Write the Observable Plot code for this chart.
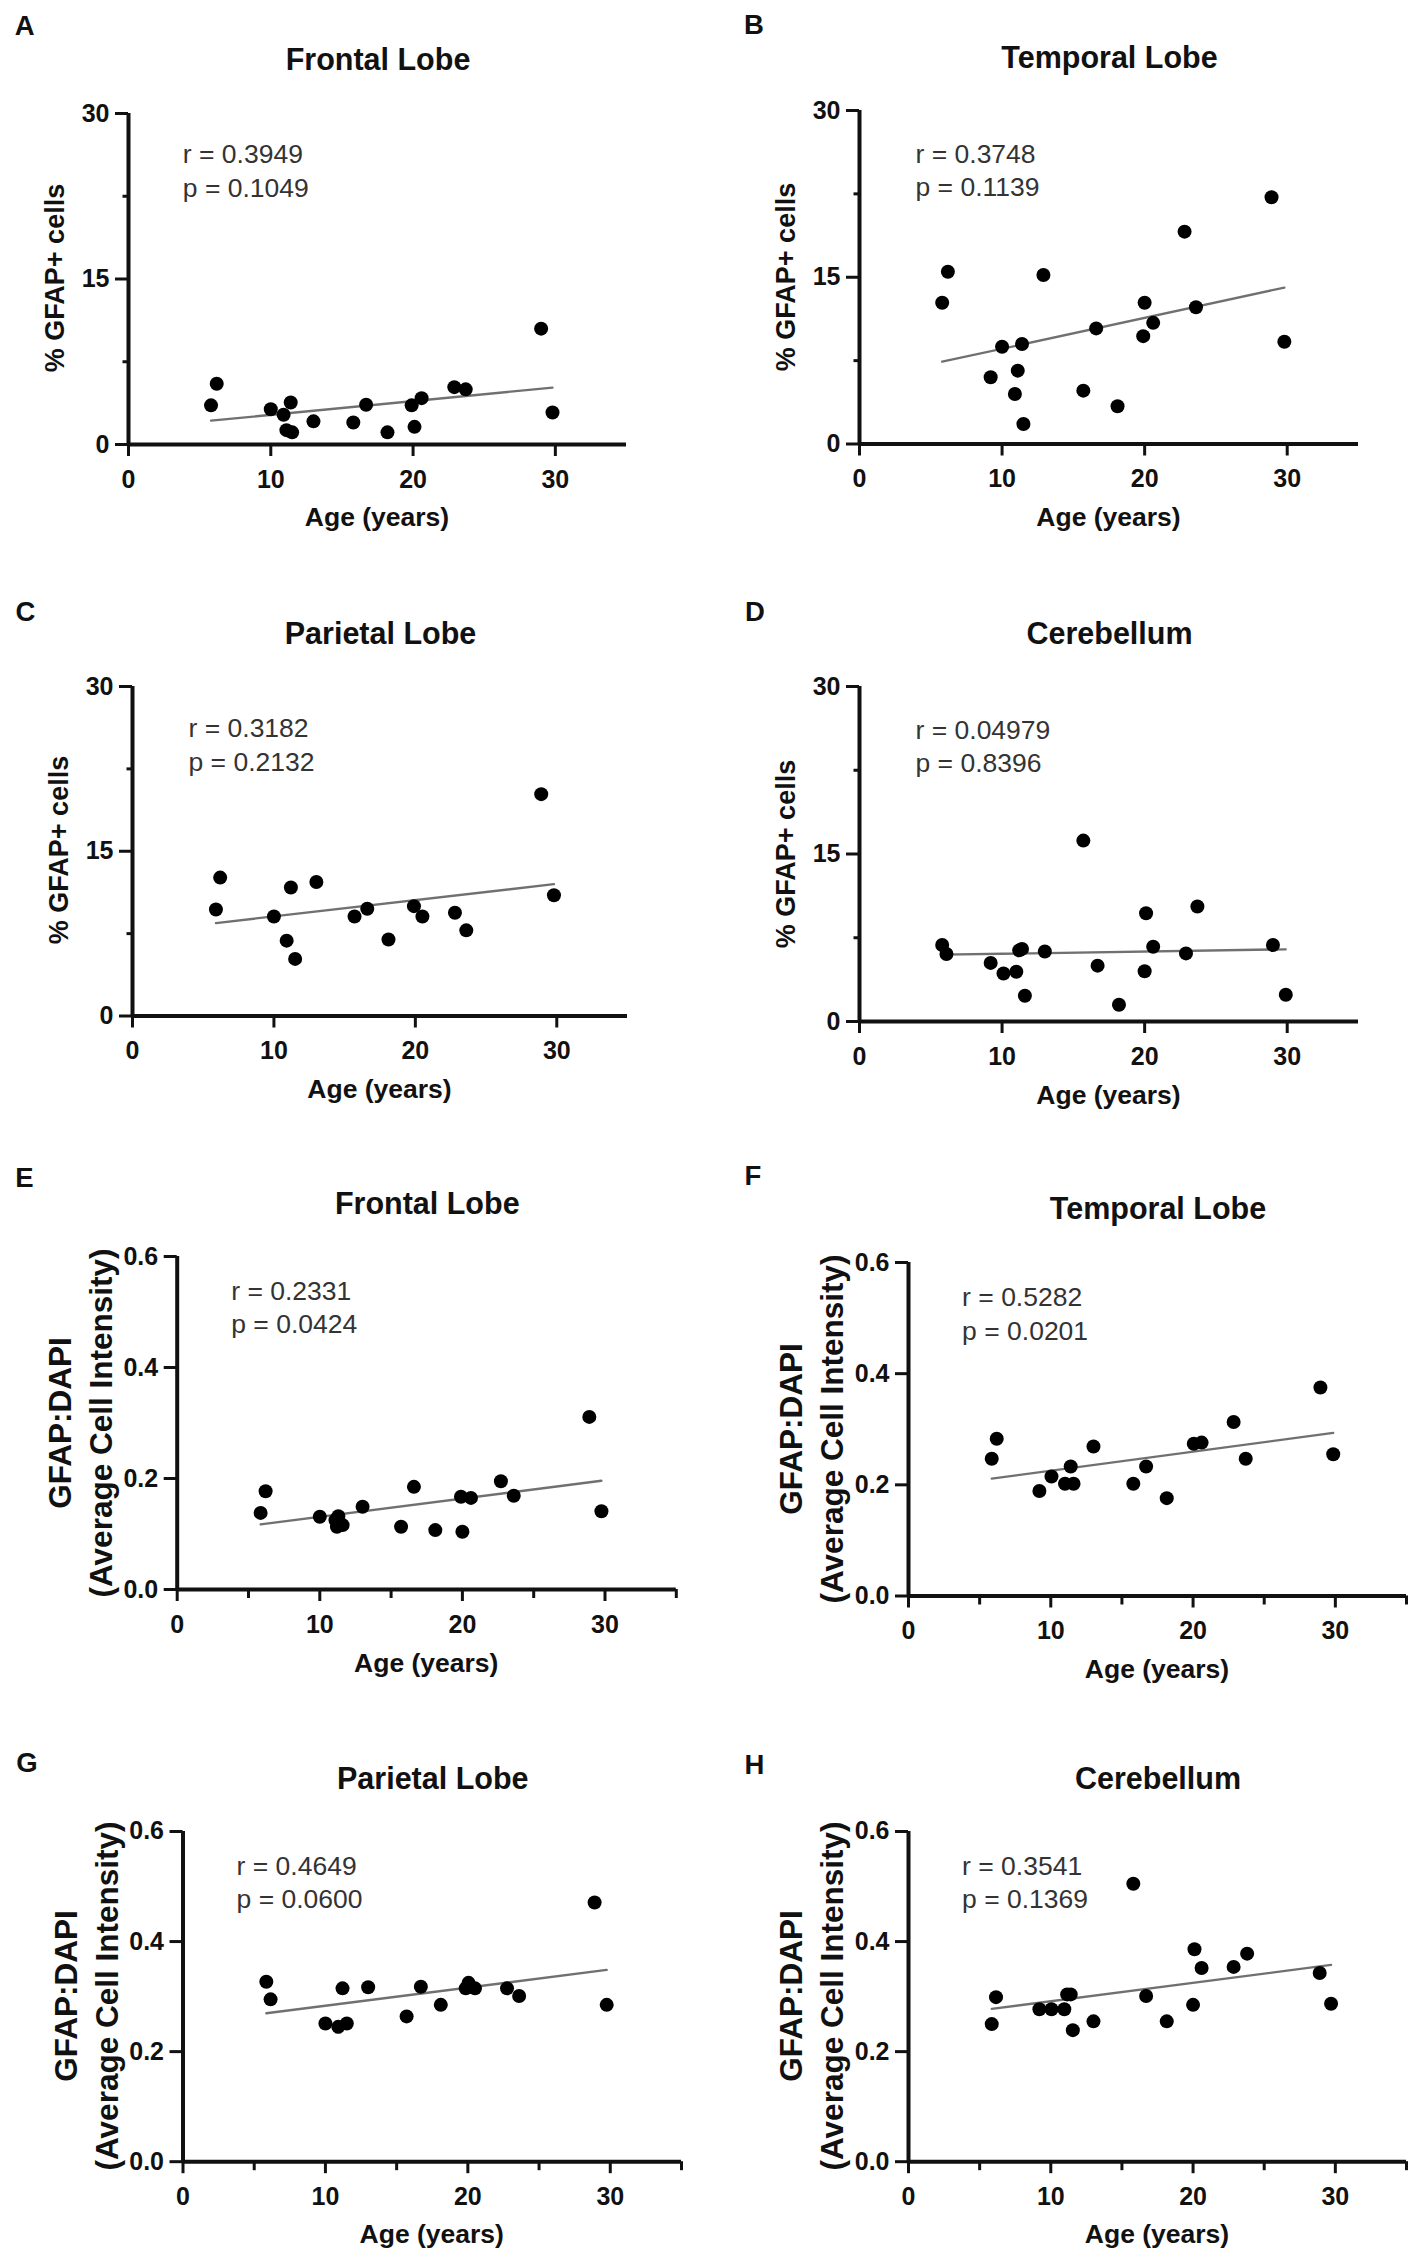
<!DOCTYPE html>
<html><head><meta charset="utf-8">
<script src="https://cdn.jsdelivr.net/npm/d3@7"></script>
<script src="https://cdn.jsdelivr.net/npm/@observablehq/plot@0.6"></script>
<style>
body{margin:0;background:#fff;}
#fig{position:relative;width:1418px;height:2259px;background:#fff;font-family:"Liberation Sans",Arial,sans-serif;color:#111;overflow:hidden;}
.abs{position:absolute;white-space:nowrap;line-height:1;transform:translate(-50%,-50%);z-index:2;}
.letter{font-size:27.5px;font-weight:bold;}
.title{font-size:30.5px;font-weight:bold;}
.xlab{font-size:26.5px;font-weight:bold;}
.ylab{font-size:27px;font-weight:bold;transform:translate(-50%,-50%) rotate(-90deg);text-align:center;}
.ylab2{font-size:31.5px;font-weight:bold;line-height:40.5px;transform:translate(-50%,-50%) rotate(-90deg);text-align:center;}
.pl{position:absolute;z-index:1;}
</style></head>
<body><div id="fig"></div>
<script>
// ---- data ----
const ageA  = [5.8, 6.2, 10.0, 10.9, 11.4, 11.1, 11.5, 13.0, 15.8, 16.7, 18.2, 19.9, 20.1, 20.6, 22.9, 23.7, 29.0, 29.8];
const gfapA = [3.55, 5.5, 3.2, 2.7, 3.8, 1.3, 1.1, 2.1, 2.0, 3.6, 1.1, 3.55, 1.6, 4.2, 5.2, 5.0, 10.5, 2.9];

const ageB  = [5.8, 6.2, 9.2, 10.0, 11.4, 11.1, 10.9, 11.5, 12.9, 15.7, 16.6, 18.1, 19.9, 20.0, 20.6, 22.8, 23.6, 28.9, 29.8];
const gfapB = [12.7, 15.5, 6.0, 8.75, 9.0, 6.6, 4.5, 1.8, 15.2, 4.8, 10.4, 3.4, 9.7, 12.7, 10.9, 19.1, 12.3, 22.2, 9.2];

const ageC  = [5.9, 6.2, 10.0, 10.9, 11.2, 11.5, 13.0, 15.7, 16.6, 18.1, 19.9, 20.5, 22.8, 23.6, 28.9, 29.8];
const gfapC = [9.7, 12.6, 9.06, 6.86, 11.7, 5.2, 12.2, 9.06, 9.77, 6.96, 10.0, 9.06, 9.4, 7.8, 20.2, 11.0];

const ageD  = [5.8, 6.1, 9.2, 10.1, 11.0, 11.2, 11.4, 11.6, 13.0, 15.7, 16.7, 18.2, 20.0, 20.1, 20.6, 22.9, 23.7, 29.0, 29.9];
const gfapD = [6.85, 6.05, 5.25, 4.3, 4.46, 6.37, 6.5, 2.3, 6.27, 16.2, 5.0, 1.5, 4.5, 9.7, 6.7, 6.1, 10.3, 6.85, 2.4];

const ageE   = [5.85, 6.2, 10.0, 11.1, 11.3, 11.2, 11.6, 13.0, 15.7, 16.6, 18.1, 19.9, 20.0, 20.6, 22.7, 23.6, 28.9, 29.75];
const ratioE = [0.138, 0.177, 0.131, 0.125, 0.132, 0.113, 0.116, 0.149, 0.113, 0.185, 0.107, 0.167, 0.104, 0.165, 0.195, 0.169, 0.311, 0.141];

const ageF   = [5.85, 6.2, 9.2, 10.05, 11.0, 11.4, 11.6, 13.0, 15.8, 16.7, 18.15, 20.05, 20.6, 22.85, 23.7, 28.95, 29.85];
const ratioF = [0.247, 0.283, 0.189, 0.215, 0.202, 0.233, 0.202, 0.269, 0.202, 0.233, 0.176, 0.274, 0.276, 0.313, 0.247, 0.375, 0.255];

const ageG   = [5.85, 6.15, 10.0, 10.9, 11.2, 11.5, 13.0, 15.7, 16.7, 18.1, 19.85, 20.05, 20.5, 22.75, 23.6, 28.9, 29.75];
const ratioG = [0.327, 0.295, 0.251, 0.245, 0.315, 0.251, 0.317, 0.264, 0.318, 0.285, 0.315, 0.325, 0.315, 0.315, 0.301, 0.471, 0.285];

const ageH   = [5.85, 6.15, 9.2, 10.05, 10.95, 11.15, 11.4, 11.55, 13.0, 15.8, 16.7, 18.15, 20.0, 20.1, 20.6, 22.85, 23.8, 28.9, 29.7];
const ratioH = [0.25, 0.299, 0.277, 0.277, 0.277, 0.304, 0.304, 0.239, 0.255, 0.505, 0.301, 0.255, 0.285, 0.386, 0.352, 0.354, 0.378, 0.343, 0.287];

const letters = ["A", "B", "C", "D", "E", "F", "G", "H"];
const titles  = ["Frontal Lobe", "Temporal Lobe", "Parietal Lobe", "Cerebellum", "Frontal Lobe", "Temporal Lobe", "Parietal Lobe", "Cerebellum"];
const rValues = ["0.3949", "0.3748", "0.3182", "0.04979", "0.2331", "0.5282", "0.4649", "0.3541"];
const pValues = ["0.1049", "0.1139", "0.2132", "0.8396", "0.0424", "0.0201", "0.0600", "0.1369"];

const ageTicks   = [0, 10, 20, 30];
const ageMinor   = [5, 15, 25, 35];
const pctTicks   = [0, 15, 30];
const pctMinor   = [7.5, 22.5];
const ratioTicks = [0, 0.2, 0.4, 0.6];
const xLabel     = "Age (years)";
const pctLabel   = "% GFAP+ cells";
const ratioLabel = ["GFAP:DAPI", "(Average Cell Intensity)"];

// ---- layout (pixel positions only) ----
const layout = [
  {x0:128,   x1:626,   yt:112.5, yb:443.5, col:0, letter:[24.8,25.8],  titleY:58.7,   tdx:54.3, tdy:26.1},
  {x0:859,   x1:1358,  yt:110,   yb:443.5, col:1, letter:[754,24.9],   titleY:56.9,   tdx:56,   tdy:28.5},
  {x0:132,   x1:627,   yt:685.5, yb:1015,  col:0, letter:[25.5,611.6], titleY:632.9,  tdx:56,   tdy:26.8},
  {x0:859,   x1:1358,  yt:686,   yb:1021,  col:1, letter:[755,611.6],  titleY:632.9,  tdx:56,   tdy:28.6},
  {x0:176.7, x1:675.8, yt:1256,  yb:1589,  col:0, letter:[24.3,1177.8],titleY:1202.7, tdx:54,   tdy:19.5},
  {x0:908,   x1:1406,  yt:1262,  yb:1595.5,col:1, letter:[753,1176],   titleY:1208,   tdx:53.6, tdy:19.7},
  {x0:182.5, x1:681,   yt:1830.5,yb:2160.7,col:0, letter:[27,1762.8],  titleY:1778.2, tdx:53.6, tdy:19.6},
  {x0:908,   x1:1406,  yt:1830.5,yb:2160.7,col:1, letter:[754.5,1764.5],titleY:1778.2,tdx:53.6, tdy:19.6}
];

const ages = [ageA, ageB, ageC, ageD, ageE, ageF, ageG, ageH];
const vals = [gfapA, gfapB, gfapC, gfapD, ratioE, ratioF, ratioG, ratioH];

const fig = document.getElementById("fig");
const FONT = '"Liberation Sans", Arial, sans-serif';

function addText(cls, txt, cx, cy) {
  const d = document.createElement("div");
  d.className = "abs " + cls;
  d.style.left = cx + "px";
  d.style.top = cy + "px";
  if (Array.isArray(txt)) d.innerHTML = txt.map(t => `<div>${t}</div>`).join("");
  else d.textContent = txt;
  fig.appendChild(d);
}

for (let i = 0; i < 8; i++) {
  const L = layout[i];
  const isRatio = i >= 4;
  const data = ages[i].map((a, j) => ({age: a, v: vals[i][j]}));
  const left = L.col ? 709 : 0;
  const mt = 20, mb = 70;
  const fh = L.yb - L.yt;
  const marks = [
    Plot.axisX({ticks: ageTicks, tickSize: 12, tickPadding: 13.5, strokeWidth: 3, label: null, fontSize: 25, fontWeight: "bold"}),
    Plot.axisY({ticks: isRatio ? ratioTicks : pctTicks, tickSize: 13, tickPadding: 6, strokeWidth: 3, label: null,
                fontSize: 25, fontWeight: "bold", tickFormat: isRatio ? d3.format(".1f") : d3.format("d")}),
    Plot.ruleY([0], {strokeWidth: 4}),
    Plot.ruleX([0], {strokeWidth: 4}),
    Plot.linearRegressionY(data, {x: "age", y: "v", ci: 0, stroke: "#707070", strokeWidth: 2.3}),
    Plot.dot(data, {x: "age", y: "v", r: 7, fill: "#000"}),
    Plot.text([`r = ${rValues[i]}\np = ${pValues[i]}`], {text: d => d, frameAnchor: "top-left", dx: L.tdx, dy: L.tdy,
      lineAnchor: "top", textAnchor: "start", fontSize: 26.5, fontWeight: "normal", lineHeight: 1.265, fill: "#333"})
  ];
  if (isRatio) marks.push(Plot.axisX({ticks: ageMinor, tickSize: 9, strokeWidth: 3, label: null, tickFormat: () => ""}));
  else marks.push(Plot.axisY({ticks: pctMinor, tickSize: 5.5, strokeWidth: 3, label: null, tickFormat: () => ""}));

  const svg = Plot.plot({
    width: 709,
    height: fh + mt + mb,
    marginLeft: L.x0 - left,
    marginRight: left + 709 - L.x1,
    marginTop: mt,
    marginBottom: mb,
    x: {domain: [0, 35]},
    y: {domain: isRatio ? [0, 0.6] : [0, 30]},
    style: {fontFamily: FONT, fontSize: "25px", fontWeight: "bold", color: "#111", background: "transparent", overflow: "visible"},
    marks
  });
  const wrap = document.createElement("div");
  wrap.className = "pl";
  wrap.style.left = left + "px";
  wrap.style.top = (L.yt - mt) + "px";
  wrap.style.width = "709px";
  wrap.appendChild(svg);
  fig.appendChild(wrap);

  const xmid = (L.x0 + L.x1) / 2;
  const ymid = (L.yt + L.yb) / 2;
  addText("letter", letters[i], L.letter[0], L.letter[1]);
  addText("title", titles[i], xmid + 1, L.titleY);
  addText("xlab", xLabel, xmid, L.yb + 73.5);
  if (isRatio) addText("ylab2", ratioLabel, L.x0 - 97, ymid);
  else addText("ylab", pctLabel, L.x0 - 73, ymid);
}
</script>
</body></html>
